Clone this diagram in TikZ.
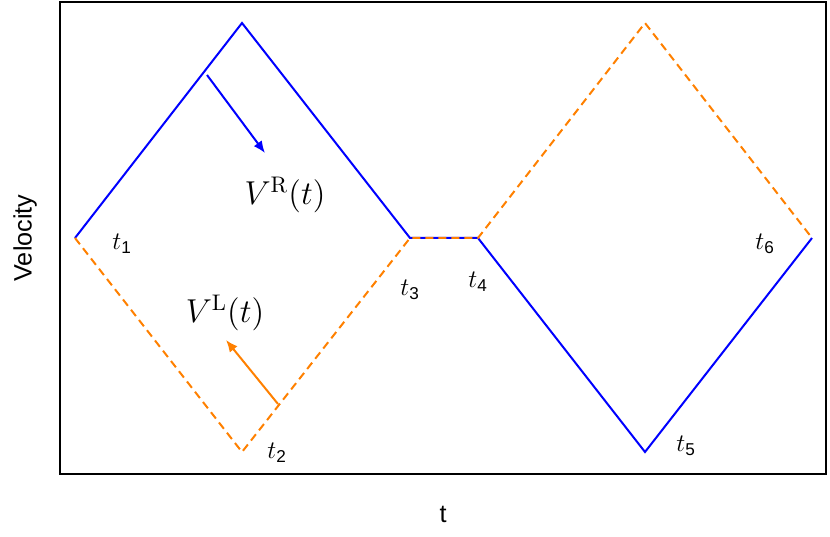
\documentclass[tikz,border=0pt]{standalone}
\usepackage{fontspec}
\usetikzlibrary{arrows.meta}
\setsansfont{Liberation Sans}
\begin{document}
\begin{tikzpicture}[x=1pt,y=-1pt,
  bl/.style={draw=blue,line width=2pt},
  og/.style={draw=orange,line width=2pt,dash pattern=on 8pt off 5pt},
  tl/.style={font=\sffamily\itshape\fontsize{14}{16}\selectfont,scale=1.75},
  vl/.style={font=\fontsize{14}{16}\selectfont,scale=2.3}]
\useasboundingbox (0,0) rectangle (830,537);
\draw[line width=2pt] (60,2) rectangle (826,474);
\coordinate (t1) at (75,238);
\coordinate (p1) at (242,23);
\coordinate (t3) at (410,238);
\coordinate (t4) at (478,238);
\coordinate (p2) at (645,23);
\coordinate (t6) at (812,238);
\coordinate (t2) at (242,452);
\coordinate (t5) at (645,452);
\draw[bl] (t1) -- (p1) -- (t3) -- (t4) -- (t5) -- (t6);
\draw[og] (t1) -- (t2) -- (t3) -- (t4) -- (p2) -- (t6);
\coordinate (a1) at (207,75); \coordinate (a2) at (265,153);
\coordinate (b1) at (278,404); \coordinate (b2) at (226,340);
\draw[blue,line width=2pt,-{Latex[length=12pt,width=10pt]}] (a1) -- (a2);
\draw[orange,line width=2pt,-{Latex[length=12pt,width=10pt]}] (b1) -- (b2);
\node[vl] (vr) at (285,195) {$V^{\mathrm{R}}(t)$};
\node[vl] (vlab) at (225,313) {$V^{\mathrm{L}}(t)$};
\node[tl] (l1) at (122,244) {$t$\textsubscript{\upshape 1}};
\node[tl] (l2) at (277,453) {$t$\textsubscript{\upshape 2}};
\node[tl] (l3) at (410,290) {$t$\textsubscript{\upshape 3}};
\node[tl] (l4) at (478,282) {$t$\textsubscript{\upshape 4}};
\node[tl] (l5) at (686,446) {$t$\textsubscript{\upshape 5}};
\node[tl] (l6) at (765,244) {$t$\textsubscript{\upshape 6}};
\node[font=\sffamily\fontsize{14}{16}\selectfont,rotate=90,scale=1.8] (yl) at (25,238) {Velocity};
\node[font=\sffamily\fontsize{14}{16}\selectfont,scale=1.8] (xl) at (443,514) {t};
\end{tikzpicture}
\end{document}
